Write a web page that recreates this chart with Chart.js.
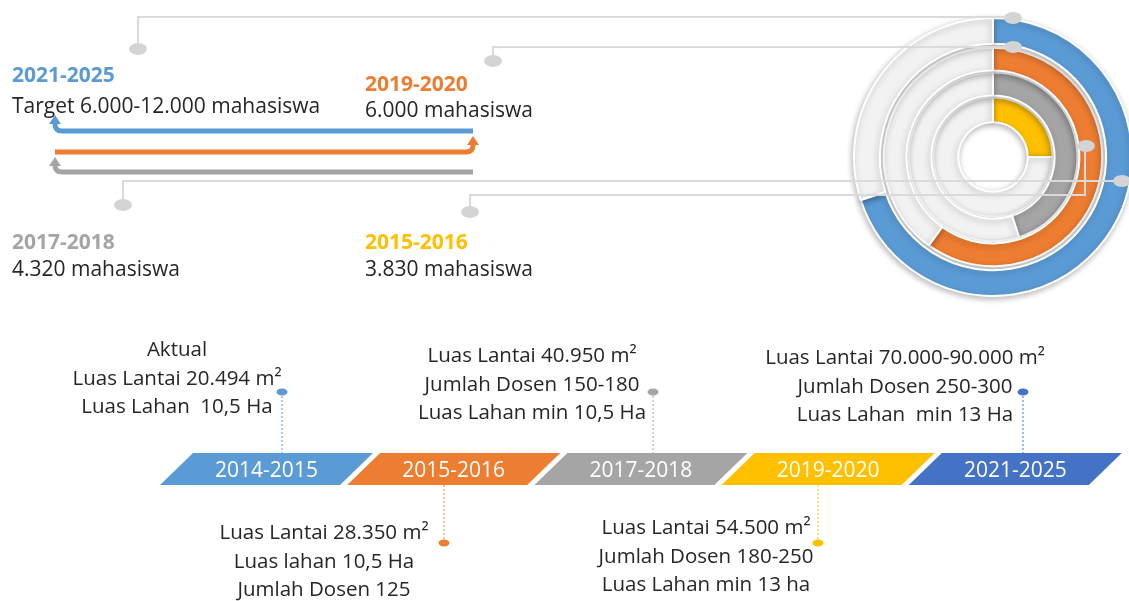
<!DOCTYPE html>
<html>
<head>
<meta charset="utf-8">
<script src="https://cdn.jsdelivr.net/npm/chart.js@4.4.1/dist/chart.umd.min.js"></script>
<style>
  body { margin:0; width:1129px; height:601px; overflow:hidden; position:relative; background:#fff; font-family:'Open Sans', sans-serif; color:#262626; }
  #ring { position:absolute; left:843px; top:7px; }
  #deco { position:absolute; left:0; top:0; }
  .t { position:absolute; white-space:pre; font-size:21px; line-height:27px; }
  .h { font-weight:bold; }
  .note { position:absolute; white-space:pre; font-size:20.5px; line-height:28.5px; text-align:center; transform:translateX(-50%); }
  .per { position:absolute; color:#fff; font-size:21px; line-height:32px; text-align:center; width:180px; }
</style>
</head>
<body>
<canvas id="ring" width="300" height="300"></canvas>
<svg id="deco" width="1129" height="601"></svg>

<script>
// --- data: rings (outer -> inner) ---
const ringLabels = ['2021-2025', '2019-2020', '2017-2018', '2015-2016'];
const ringValues = [70, 60, 45, 25];          // share of full circle
const ringColors = ['#5b9bd5', '#ed7d31', '#a5a5a5', '#ffc000'];
const ringStudents = ['Target 6.000-12.000 mahasiswa', '6.000 mahasiswa', '4.320 mahasiswa', '3.830 mahasiswa'];

// --- data: timeline ---
const periods = ['2014-2015', '2015-2016', '2017-2018', '2019-2020', '2021-2025'];
const periodColors = ['#5b9bd5', '#ed7d31', '#a5a5a5', '#ffc000', '#4472c4'];
const periodNotes = [
    ['Aktual', 'Luas Lantai 20.494 m²', 'Luas Lahan  10,5 Ha'],
    ['Luas Lantai 28.350 m²', 'Luas lahan 10,5 Ha', 'Jumlah Dosen 125'],
    ['Luas Lantai 40.950 m²', 'Jumlah Dosen 150-180', 'Luas Lahan min 10,5 Ha'],
    ['Luas Lantai 54.500 m²', 'Jumlah Dosen 180-250', 'Luas Lahan min 13 ha'],
    ['Luas Lantai 70.000-90.000 m²', 'Jumlah Dosen 250-300', 'Luas Lahan  min 13 Ha']
];

const svgNS = 'http://www.w3.org/2000/svg';
const svg = document.getElementById('deco');
function el(tag, attrs) {
    const e = document.createElementNS(svgNS, tag);
    for (const k in attrs) e.setAttribute(k, attrs[k]);
    svg.appendChild(e);
    return e;
}
function text(cls, str, x, y, color) {
    const d = document.createElement('div');
    d.className = cls;
    d.textContent = str;
    d.style.left = x + 'px';
    d.style.top = y + 'px';
    if (color) d.style.color = color;
    document.body.appendChild(d);
    return d;
}

// --- nested doughnut ---
const ringWeights = [26, 23, 23, 25];
const gapWeights = [4, 2, 2];
const datasets = [];
ringValues.forEach((v, i) => {
    datasets.push({
        label: ringLabels[i],
        data: [v, 100 - v],
        backgroundColor: [ringColors[i], '#f2f2f2'],
        borderColor: '#ffffff',
        borderWidth: 2,
        weight: ringWeights[i]
    });
    if (i < gapWeights.length) {
        datasets.push({ data: [100], backgroundColor: 'rgba(0,0,0,0)', borderWidth: 0, weight: gapWeights[i] });
    }
});

const shadowPlugin = {
    id: 'shadow',
    beforeDatasetDraw(chart) {
        const ctx = chart.ctx;
        ctx.save();
        ctx.shadowColor = 'rgba(0,0,0,0.28)';
        ctx.shadowBlur = 6;
        ctx.shadowOffsetX = -1;
        ctx.shadowOffsetY = 2;
    },
    afterDatasetDraw(chart) { chart.ctx.restore(); }
};

new Chart(document.getElementById('ring'), {
    type: 'doughnut',
    data: { labels: ['Capaian', 'Sisa'], datasets: datasets },
    options: {
        responsive: false,
        animation: false,
        cutout: '25%',
        layout: { padding: 10 },
        plugins: { legend: { display: false }, tooltip: { enabled: false } }
    },
    plugins: [shadowPlugin]
});

// --- connector lines from the rings to the labels ---
const lineCol = '#dadada';
el('path', { d: 'M138,45 V17 H1013', fill: 'none', stroke: lineCol, 'stroke-width': 2 });
el('path', { d: 'M493,57 V47 H1013', fill: 'none', stroke: lineCol, 'stroke-width': 2 });
el('path', { d: 'M123,201 V181 H1122', fill: 'none', stroke: lineCol, 'stroke-width': 2 });
el('path', { d: 'M470,208 V195 H1085 V146', fill: 'none', stroke: lineCol, 'stroke-width': 2 });
[[138, 49], [493, 61], [123, 205], [470, 212], [1013, 18], [1013, 47], [1086, 146], [1122, 181]].forEach(p => {
    el('ellipse', { cx: p[0], cy: p[1], rx: 9, ry: 6, fill: '#d4d4d4' });
});

// --- student labels ---
const labelPos = [[12, 75, 106], [365, 84, 110], [12, 242, 269], [365, 242, 269]];
ringLabels.forEach((lab, i) => {
    const p = labelPos[i];
    text('t h', lab, p[0], p[1] - 14, ringColors[i]);
    text('t', ringStudents[i], p[0], p[2] - 14);
});

// --- arrows ---
function arrowHead(x, y, c) {
    el('polygon', { points: `${x - 6},${y + 9} ${x + 6},${y + 9} ${x},${y}`, fill: c });
}
el('path', { d: 'M473,131 H62 Q55,131 55,124 V122', fill: 'none', stroke: ringColors[0], 'stroke-width': 5 });
arrowHead(55, 115, ringColors[0]);
el('path', { d: 'M55,152 H466 Q473,152 473,145 V143', fill: 'none', stroke: ringColors[1], 'stroke-width': 5 });
arrowHead(473, 136, ringColors[1]);
el('path', { d: 'M473,172 H62 Q55,172 55,165 V164', fill: 'none', stroke: ringColors[2], 'stroke-width': 5 });
arrowHead(55, 157, ringColors[2]);

// --- timeline ---
const tlTop = 453, tlBottom = 485, skew = 33, segW = 180, step = 187.2, x0 = 160;
const noteLayout = [   // [text centre x, first line y, dot x, above?]
    [177, 349, 282, true],
    [324, 532, 444, false],
    [532, 355, 653, true],
    [706, 527, 818, false],
    [905, 357, 1023, true]
];
periods.forEach((per, i) => {
    const bl = x0 + step * i;
    const c = periodColors[i];
    el('polygon', {
        points: `${bl},${tlBottom} ${bl + skew},${tlTop} ${bl + skew + segW},${tlTop} ${bl + segW},${tlBottom}`,
        fill: c
    });
    text('per', per, bl + skew / 2, tlTop);
    const n = noteLayout[i];
    const dotY = n[3] ? 392 : 543;
    el('line', { x1: n[2], y1: n[3] ? dotY : tlBottom, x2: n[2], y2: n[3] ? tlTop : dotY, stroke: c, 'stroke-width': 1, 'stroke-dasharray': '2,2' });
    el('ellipse', { cx: n[2], cy: dotY, rx: 5.5, ry: 3.5, fill: c });
    text('note', periodNotes[i].join('\n'), n[0], n[1] - 15);
});
</script>
</body>
</html>
